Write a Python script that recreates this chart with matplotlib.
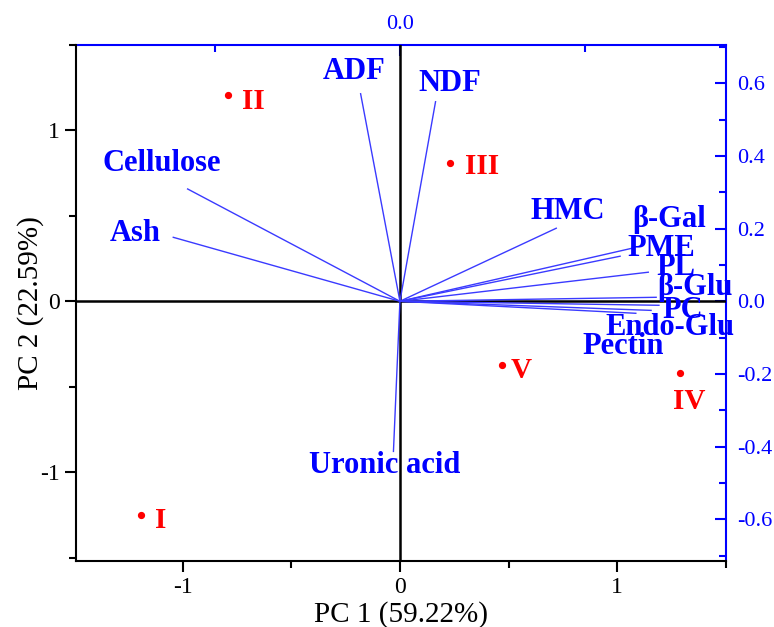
import numpy as np
import matplotlib
matplotlib.use('Agg')
import matplotlib.pyplot as plt
from matplotlib.ticker import MultipleLocator, FormatStrFormatter

plt.rcParams['font.family'] = ['Liberation Serif', 'DejaVu Serif']
plt.rcParams['axes.unicode_minus'] = False

# PCA scores (samples)
sample_names = ['I', 'II', 'III', 'IV', 'V']
score_pc1 = [-1.19, -0.79, 0.23, 1.29, 0.47]
score_pc2 = [-1.25, 1.21, 0.81, -0.42, -0.37]

# PCA loadings (variables)
var_names = ['ADF', 'NDF', 'Cellulose', 'Ash', 'Uronic acid', 'HMC', 'β-Gal',
             'PME', 'PL', 'β-Glu', 'PC', 'Endo-Glu', 'Pectin']
load_pc1 = [-0.085, 0.077, -0.459, -0.490, -0.014, 0.338, 0.502,
            0.476, 0.537, 0.554, 0.560, 0.543, 0.510]
load_pc2 = [0.571, 0.549, 0.309, 0.176, -0.413, 0.201, 0.146,
            0.124, 0.080, 0.011, -0.011, -0.025, -0.033]

# scale between score axes and loading axes
S = 0.47

# label offsets in pixels (layout only)
var_offsets = [(-6, 22), (14, 18), (-26, 25), (-38, 4), (-9, -14), (11, 17), (37, 29),
               (41, 8), (28, 5), (39, 10), (24, -5), (19, -17), (-13, -33)]
sample_offsets = [(19, -6), (25, -7), (32, -4), (9, -28), (19, -6)]

BLUE = '#0000ff'
RED = '#ff0000'

fig = plt.figure(figsize=(7.74, 6.27), dpi=100)
ax = fig.add_axes([0.0982, 0.1053, 0.8398, 0.8229])

ax.set_xlim(-1.49, 1.5)
ax.set_ylim(-1.52, 1.5)

# origin lines
ax.axhline(0, color='black', lw=1.8, zorder=1)
ax.axvline(0, color='black', lw=1.8, zorder=1)

# loading vectors
for name, lx, ly, off in zip(var_names, load_pc1, load_pc2, var_offsets):
    ax.plot([0, lx / S], [0, ly / S], color='#3a3aff', lw=1.0, zorder=2)
    ax.annotate(name, (lx / S, ly / S), xytext=off, textcoords='offset pixels',
                ha='center', va='center', color=BLUE, fontsize=22,
                fontweight='bold', zorder=4)

# scores
ax.plot(score_pc1, score_pc2, 'o', color=RED, ms=4.2, zorder=3)
for name, x, y, off in zip(sample_names, score_pc1, score_pc2, sample_offsets):
    ax.annotate(name, (x, y), xytext=off, textcoords='offset pixels',
                ha='center', va='center', color=RED, fontsize=21,
                fontweight='bold', zorder=4)

# main axes (black)
ax.spines['top'].set_visible(False)
ax.spines['right'].set_visible(False)
for s in ['left', 'bottom']:
    ax.spines[s].set_linewidth(1.5)
ax.xaxis.set_major_locator(MultipleLocator(1))
ax.xaxis.set_minor_locator(MultipleLocator(0.5))
ax.yaxis.set_major_locator(MultipleLocator(1))
ax.yaxis.set_minor_locator(MultipleLocator(0.5))
ax.tick_params(which='major', direction='out', length=8, width=1.5, labelsize=17)
ax.tick_params(which='minor', direction='out', length=5, width=1.5)
ax.set_xlabel('PC 1 (59.22%)', fontsize=21, labelpad=2)
ax.set_ylabel('PC 2 (22.59%)', fontsize=21, labelpad=-3)

# loading axes (blue)
secx = ax.secondary_xaxis('top', functions=(lambda x: x * S, lambda x: x / S))
secy = ax.secondary_yaxis('right', functions=(lambda y: y * S, lambda y: y / S))
secx.xaxis.set_major_locator(MultipleLocator(0.8))
secx.xaxis.set_minor_locator(MultipleLocator(0.4))
secx.xaxis.set_major_formatter(FormatStrFormatter('%.1f'))
secy.yaxis.set_major_locator(MultipleLocator(0.2))
secy.yaxis.set_minor_locator(MultipleLocator(0.1))
secy.yaxis.set_major_formatter(FormatStrFormatter('%.1f'))
for sec in (secx, secy):
    for sp in sec.spines.values():
        sp.set_color(BLUE)
        sp.set_linewidth(1.5)
    sec.tick_params(which='major', direction='in', length=8, width=1.5,
                    colors=BLUE, labelsize=16, pad=8)
    sec.tick_params(which='minor', direction='in', length=5, width=1.5, colors=BLUE)

fig.savefig('out.png', dpi=100)
